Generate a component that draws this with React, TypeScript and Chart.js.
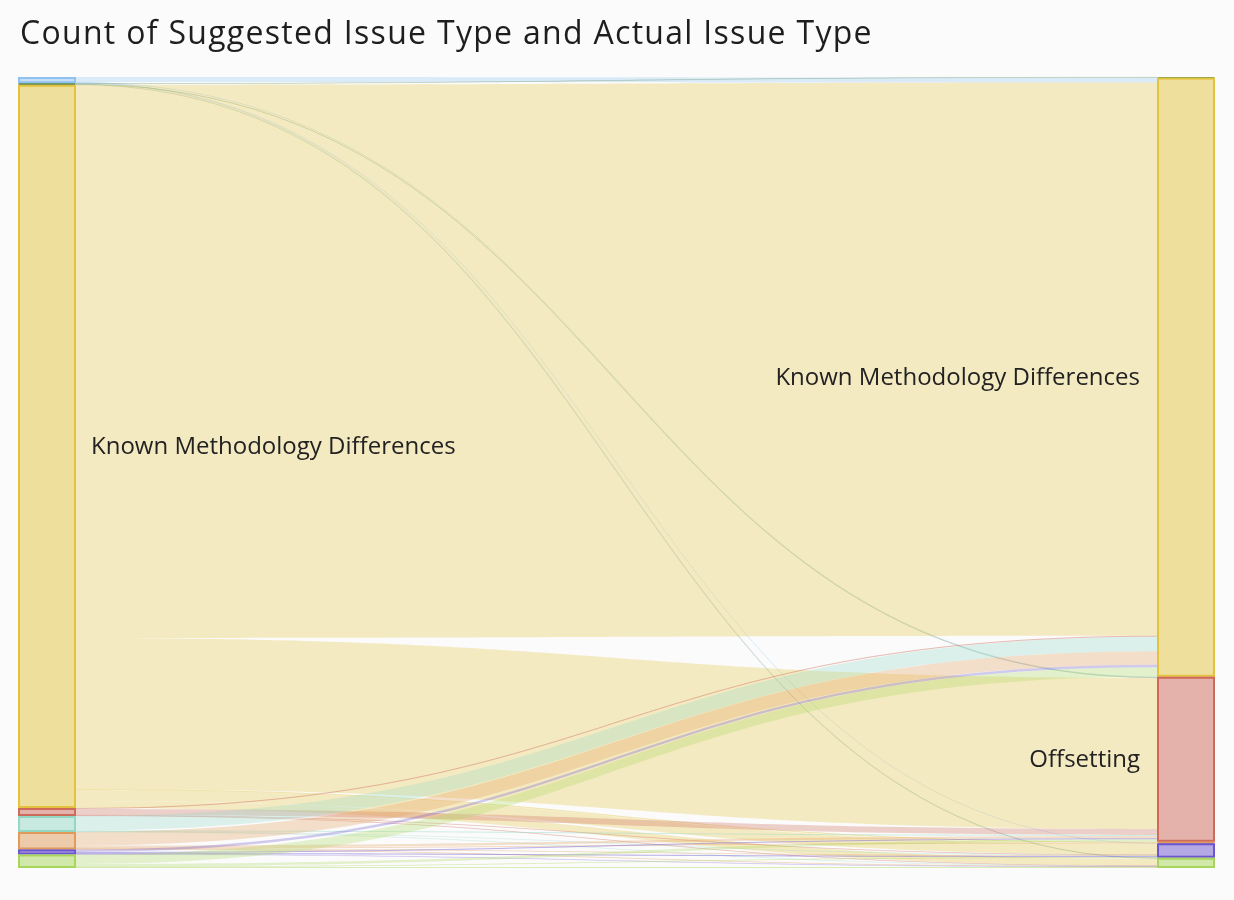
import React, { useEffect, useRef } from "react";
import { Chart, registerables } from "chart.js";

Chart.register(...registerables);

const TITLE = "Count of Suggested Issue Type and Actual Issue Type";

// Issue type categories (only the two large ones are labelled in the source)
const categories = [
  "Type A",
  "Type B",
  "Known Methodology Differences",
  "Offsetting",
  "Type C",
  "Type D",
  "Type E",
  "Type F",
];
const categoryColors = [
  "#8fc2f0",
  "#5b8b5b",
  "#e3c33e",
  "#cd6a5a",
  "#93d8c3",
  "#e09a5a",
  "#6e55d0",
  "#a8d65c",
];

// Links: suggested (left) -> actual (right)
const linkSource = [0, 0, 0, 0, 1, 1, 1, 2, 2, 2, 2, 2, 3, 3, 3, 3, 4, 4, 4, 4, 5, 5, 5, 5, 5, 6, 6, 6, 6, 7, 7, 7, 7];
const linkTarget = [2, 3, 6, 7, 1, 3, 7, 2, 3, 5, 6, 7, 2, 3, 6, 7, 2, 3, 6, 7, 2, 3, 5, 6, 7, 2, 3, 6, 7, 2, 3, 6, 7];
const linkValue = [5, 0.6, 0.3, 0.4, 0.6, 0.5, 0.4, 553, 151, 1, 11, 7, 1, 6, 0.5, 0.5, 14.5, 1, 0.3, 0.2, 13.5, 2.4, 0.5, 0.6, 0.5, 2.5, 1, 1.2, 0.3, 9.5, 2.5, 0.5, 1];

const NODE_W = 58;

function hexA(hex: string, a: number) {
  const n = parseInt(hex.slice(1), 16);
  return `rgba(${(n >> 16) & 255},${(n >> 8) & 255},${n & 255},${a})`;
}

function computeLayout() {
  const n = categories.length;
  const outSum = new Array(n).fill(0);
  const inSum = new Array(n).fill(0);
  linkValue.forEach((v, i) => {
    outSum[linkSource[i]] += v;
    inSum[linkTarget[i]] += v;
  });
  const leftY: number[] = new Array(n).fill(0);
  const rightY: number[] = new Array(n).fill(0);
  let acc = 0;
  for (let c = 0; c < n; c++) {
    leftY[c] = acc;
    acc += outSum[c];
  }
  const total = acc;
  acc = 0;
  for (let c = 0; c < n; c++) {
    rightY[c] = acc;
    acc += inSum[c];
  }
  const idx = linkValue.map((_, i) => i);
  const sy: number[] = new Array(linkValue.length).fill(0);
  const ty: number[] = new Array(linkValue.length).fill(0);
  for (let c = 0; c < n; c++) {
    let y = leftY[c];
    idx
      .filter((i) => linkSource[i] === c)
      .sort((a, b) => linkTarget[a] - linkTarget[b])
      .forEach((i) => {
        sy[i] = y;
        y += linkValue[i];
      });
    y = rightY[c];
    idx
      .filter((i) => linkTarget[i] === c)
      .sort((a, b) => linkSource[a] - linkSource[b])
      .forEach((i) => {
        ty[i] = y;
        y += linkValue[i];
      });
  }
  return { outSum, inSum, leftY, rightY, sy, ty, total };
}

const sankeyPlugin = {
  id: "sankeyDraw",
  afterDatasetsDraw(chart: any) {
    const L = computeLayout();
    const ctx = chart.ctx as CanvasRenderingContext2D;
    const xs = chart.scales.x;
    const ys = chart.scales.y;
    const xl0 = xs.getPixelForValue(0);
    const xr1 = xs.getPixelForValue(1);
    const xl1 = xl0 + NODE_W;
    const xr0 = xr1 - NODE_W;
    const xm = (xl1 + xr0) / 2;
    ctx.save();
    // title
    ctx.font = "32px 'Open Sans'";
    (ctx as any).letterSpacing = "1.3px";
    ctx.fillStyle = "#1e1e1e";
    ctx.textAlign = "left";
    ctx.textBaseline = "alphabetic";
    ctx.fillText(TITLE, 20, 44);
    (ctx as any).letterSpacing = "0px";
    // links
    linkValue.forEach((v, i) => {
      const y0a = ys.getPixelForValue(L.sy[i]);
      const y0b = ys.getPixelForValue(L.sy[i] + v);
      const y1a = ys.getPixelForValue(L.ty[i]);
      const y1b = ys.getPixelForValue(L.ty[i] + v);
      const col = categoryColors[linkSource[i]];
      ctx.fillStyle = hexA(col, 0.3);
      ctx.beginPath();
      ctx.moveTo(xl1, y0a);
      ctx.bezierCurveTo(xm, y0a, xm, y1a, xr0, y1a);
      ctx.lineTo(xr0, y1b);
      ctx.bezierCurveTo(xm, y1b, xm, y0b, xl1, y0b);
      ctx.closePath();
      ctx.fill();
      if (Math.abs(y0b - y0a) < 1.5) {
        const c0 = (y0a + y0b) / 2;
        const c1 = (y1a + y1b) / 2;
        ctx.strokeStyle = hexA(col, 0.2);
        ctx.lineWidth = 1;
        ctx.beginPath();
        ctx.moveTo(xl1, c0);
        ctx.bezierCurveTo(xm, c0, xm, c1, xr0, c1);
        ctx.stroke();
      }
    });
    // nodes
    const drawNode = (x0: number, v0: number, v: number, col: string) => {
      if (v <= 0) return;
      const y0 = ys.getPixelForValue(v0);
      const y1 = ys.getPixelForValue(v0 + v);
      ctx.fillStyle = hexA(col, 0.5);
      ctx.fillRect(x0, y0, NODE_W, y1 - y0);
      ctx.strokeStyle = col;
      ctx.lineWidth = 2;
      ctx.strokeRect(x0 + 1, y0 + 1, NODE_W - 2, Math.max(y1 - y0 - 2, 0));
    };
    for (let c = 0; c < categories.length; c++) {
      drawNode(xl0, L.leftY[c], L.outSum[c], categoryColors[c]);
      drawNode(xr0, L.rightY[c], L.inSum[c], categoryColors[c]);
    }
    // labels
    ctx.font = "24px 'Open Sans'";
    ctx.fillStyle = "#222222";
    ctx.textBaseline = "middle";
    for (let c = 0; c < categories.length; c++) {
      const hL = ys.getPixelForValue(L.leftY[c] + L.outSum[c]) - ys.getPixelForValue(L.leftY[c]);
      if (hL > 40) {
        ctx.textAlign = "left";
        ctx.fillText(categories[c], xl1 + 15, ys.getPixelForValue(L.leftY[c] + L.outSum[c] / 2) + 1);
      }
      const hR = ys.getPixelForValue(L.rightY[c] + L.inSum[c]) - ys.getPixelForValue(L.rightY[c]);
      if (hR > 40) {
        ctx.textAlign = "right";
        ctx.fillText(categories[c], xr0 - 17, ys.getPixelForValue(L.rightY[c] + L.inSum[c] / 2) + 1);
      }
    }
    ctx.restore();
  },
};

export default function App() {
  const ref = useRef<HTMLCanvasElement | null>(null);
  useEffect(() => {
    if (!ref.current) return;
    const total = computeLayout().total;
    const chart = new Chart(ref.current, {
      type: "scatter",
      data: { datasets: [{ data: [] }] },
      options: {
        responsive: false,
        animation: false,
        layout: { padding: { left: 18, right: 19, top: 77, bottom: 32 } },
        scales: {
          x: { type: "linear", min: 0, max: 1, display: false },
          y: { type: "linear", min: 0, max: total, reverse: true, display: false },
        },
        plugins: {
          legend: { display: false },
          tooltip: { enabled: false },
          title: { display: false },
        },
      },
      plugins: [sankeyPlugin],
    });
    return () => chart.destroy();
  }, []);
  return (
    <div style={{ position: "absolute", left: 0, top: 0, width: 1234, height: 900, background: "#fbfbfb" }}>
      <canvas ref={ref} width={1234} height={900} />
    </div>
  );
}
